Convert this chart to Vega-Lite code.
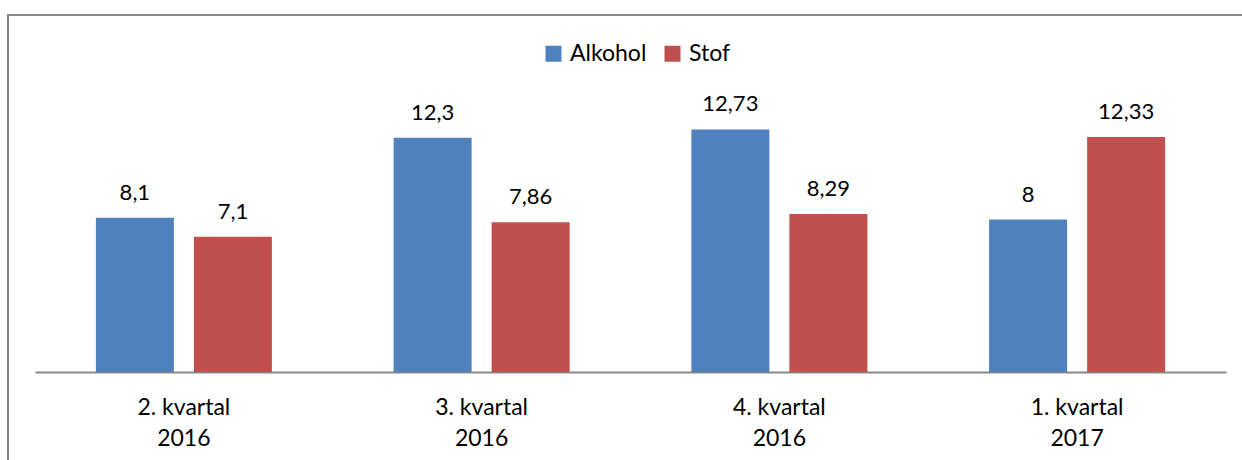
{
  "$schema": "https://vega.github.io/schema/vega-lite/v6.json",
  "width": 1250,
  "height": 470,
  "autosize": {"type": "none"},
  "padding": {"left": 8, "top": 15, "right": 0, "bottom": 0},
  "background": "white",
  "config": {
    "view": {"stroke": "#878787", "strokeWidth": 2},
    "font": "Lato",
    "locale": {"number": {"decimal": ",", "thousands": ".", "grouping": [3], "currency": ["", " kr"]}}
  },
  "data": {
    "values": [
      {"kvartal": "2. kvartal\n2016", "serie": "Alkohol", "value": 8.1},
      {"kvartal": "2. kvartal\n2016", "serie": "Stof", "value": 7.1},
      {"kvartal": "3. kvartal\n2016", "serie": "Alkohol", "value": 12.3},
      {"kvartal": "3. kvartal\n2016", "serie": "Stof", "value": 7.86},
      {"kvartal": "4. kvartal\n2016", "serie": "Alkohol", "value": 12.73},
      {"kvartal": "4. kvartal\n2016", "serie": "Stof", "value": 8.29},
      {"kvartal": "1. kvartal\n2017", "serie": "Alkohol", "value": 8},
      {"kvartal": "1. kvartal\n2017", "serie": "Stof", "value": 12.33}
    ]
  },
  "encoding": {
    "x": {
      "field": "kvartal", "type": "nominal", "sort": null,
      "scale": {"range": [27, 1218], "paddingInner": 0, "paddingOuter": 0},
      "axis": {
        "title": null, "orient": "bottom", "offset": -113, "ticks": false,
        "domainColor": "#878787", "domainWidth": 2, "grid": false,
        "labelAngle": 0, "labelFontSize": 23, "labelColor": "#000000",
        "labelPadding": 24, "labelLineHeight": 31,
        "labelExpr": "split(datum.value, '\\n')"
      }
    },
    "xOffset": {
      "field": "serie", "type": "nominal",
      "scale": {"paddingInner": 0.204, "paddingOuter": 0.621}
    },
    "y": {
      "field": "value", "type": "quantitative",
      "scale": {"domain": [-5.93, 18.74], "nice": false, "zero": false},
      "axis": null
    }
  },
  "layer": [
    {
      "mark": {"type": "bar"},
      "encoding": {
        "y2": {"datum": 0},
        "color": {
          "field": "serie", "type": "nominal",
          "scale": {"domain": ["Alkohol", "Stof"], "range": ["#4F81BD", "#C0504D"]},
          "legend": {
            "title": null, "orient": "none", "direction": "horizontal",
            "legendX": 534, "legendY": 27,
            "symbolType": "square", "symbolSize": 256, "symbolStrokeWidth": 0,
            "labelFontSize": 23, "labelColor": "#000000", "labelOffset": 5,
            "columnPadding": 14
          }
        }
      }
    },
    {
      "mark": {"type": "text", "baseline": "alphabetic", "dy": -18, "fontSize": 22, "color": "#000000"},
      "encoding": {
        "text": {"field": "value", "type": "quantitative", "format": "~g"}
      }
    }
  ]
}
